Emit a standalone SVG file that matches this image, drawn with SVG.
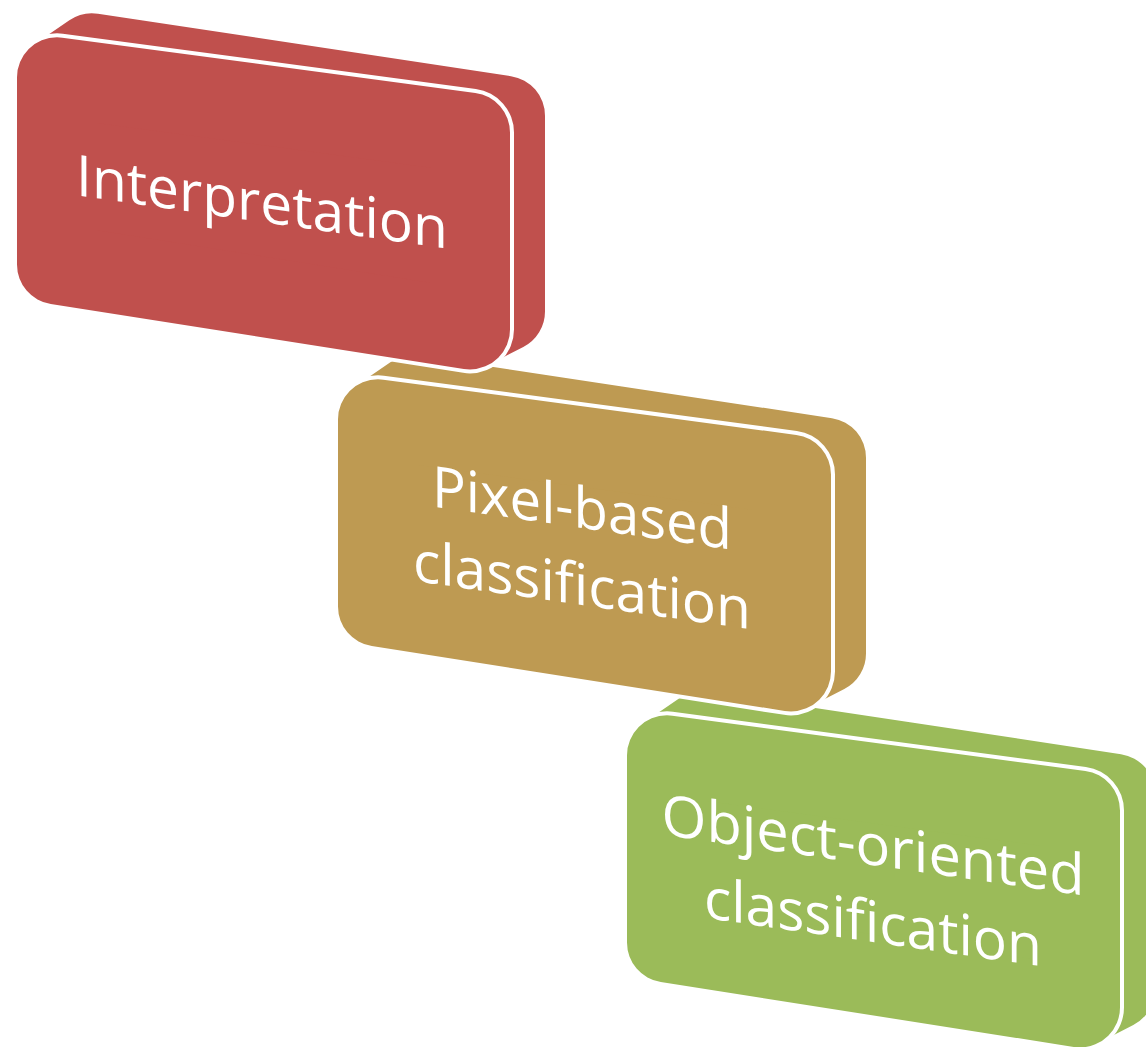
<svg xmlns="http://www.w3.org/2000/svg" xmlns:xlink="http://www.w3.org/1999/xlink" width="1146" height="1047" viewBox="0 0 1146 1047">
  <style>
    .side { stroke-width: 80; stroke-linejoin: round; }
    .rim { fill: #ffffff; stroke: #ffffff; stroke-width: 88; stroke-linejoin: round; }
    .face { stroke-width: 80; stroke-linejoin: round; }
    .red { fill: #C0504D; stroke: #C0504D; }
    .gold { fill: #BE9A52; stroke: #BE9A52; }
    .green { fill: #9BBB59; stroke: #9BBB59; }
    .label { font-family: "Open Sans", "Noto Sans", "Liberation Sans", sans-serif; font-size: 57px; fill: #ffffff; stroke: none; text-anchor: middle; }
  </style>
  <defs>
    <polygon id="hull" points="57,77.3 92,53.3 505,115.7 505,311.4 470,329.4 57,264.6"/>
    <polygon id="face" points="57,77.3 470,132.6 470,329.4 57,264.6"/>
  </defs>
  <rect x="0" y="0" width="1146" height="1047" fill="#ffffff"/>
  <g id="connectors"></g>
  <g id="node-object-oriented" transform="translate(610,678)">
    <use xlink:href="#hull" class="side green"/>
    <use xlink:href="#face" class="rim"/>
    <use xlink:href="#face" class="face green"/>
    <text class="label" transform="translate(263,187) skewY(8.2)" textLength="423" lengthAdjust="spacingAndGlyphs">Object-oriented</text>
    <text class="label" transform="translate(263,264) skewY(8.2)" textLength="338" lengthAdjust="spacingAndGlyphs">classification</text>
  </g>
  <g id="node-pixel-based" transform="translate(321,342)">
    <use xlink:href="#hull" class="side gold"/>
    <use xlink:href="#face" class="rim"/>
    <use xlink:href="#face" class="face gold"/>
    <text class="label" transform="translate(261,186) skewY(8.2)" textLength="300" lengthAdjust="spacingAndGlyphs">Pixel-based</text>
    <text class="label" transform="translate(261,263) skewY(8.2)" textLength="338" lengthAdjust="spacingAndGlyphs">classification</text>
  </g>
  <g id="node-interpretation">
    <use xlink:href="#hull" class="side red"/>
    <use xlink:href="#face" class="rim"/>
    <use xlink:href="#face" class="face red"/>
    <text class="label" transform="translate(262,222) skewY(8.2)" textLength="372" lengthAdjust="spacingAndGlyphs">Interpretation</text>
  </g>
</svg>
